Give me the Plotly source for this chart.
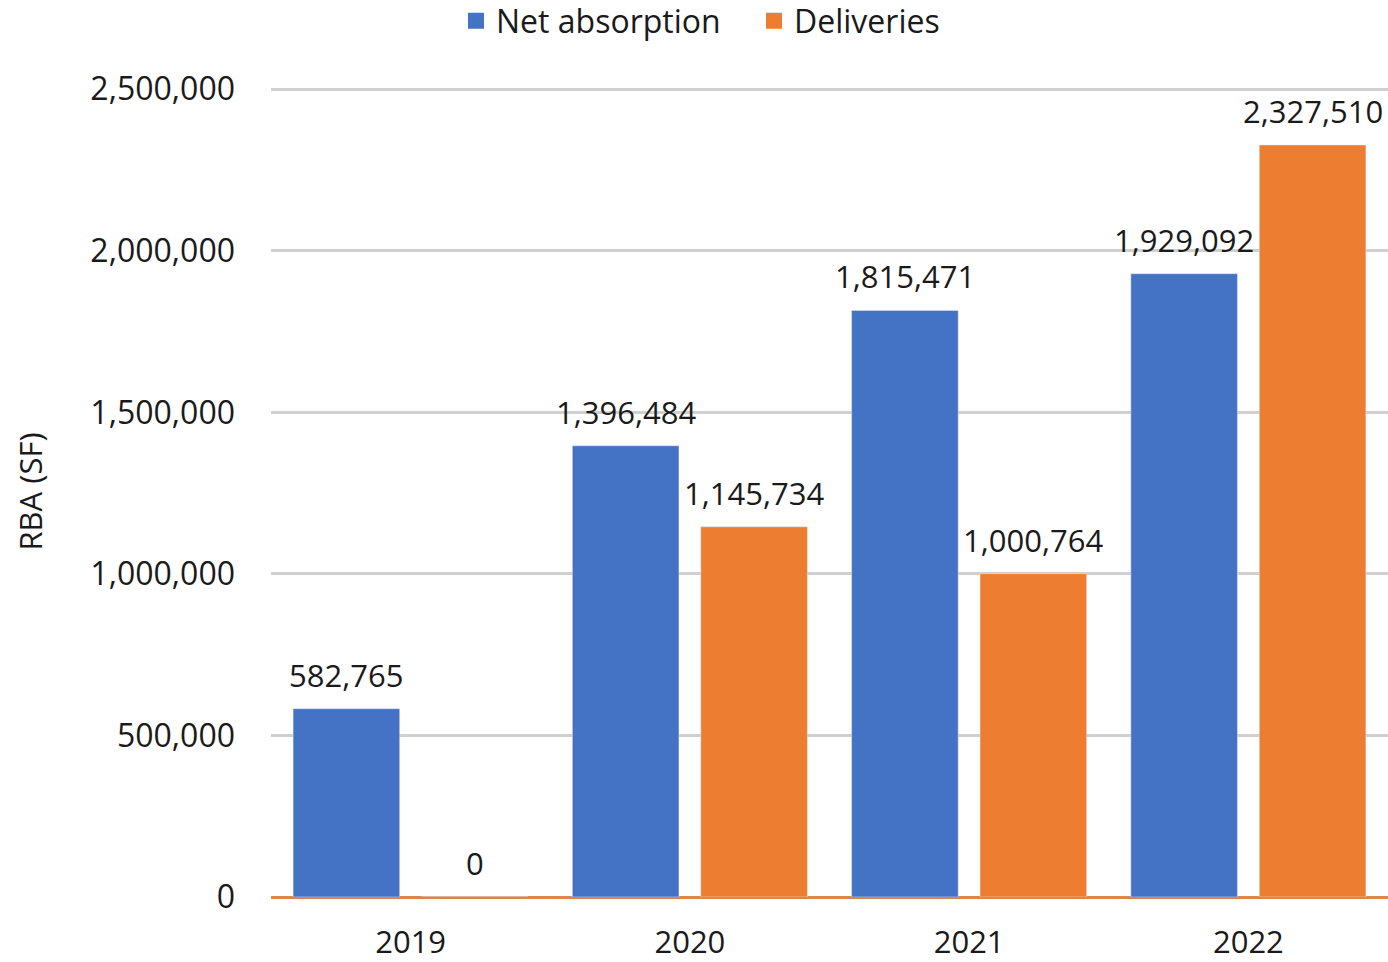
import plotly.graph_objects as go

years = ["2019", "2020", "2021", "2022"]
net_absorption = [582765, 1396484, 1815471, 1929092]
deliveries = [0, 1145734, 1000764, 2327510]
tick_vals = [0, 500000, 1000000, 1500000, 2000000, 2500000]
tick_text = ["0", "500,000", "1,000,000", "1,500,000", "2,000,000", "2,500,000"]
series = [("Net absorption", net_absorption, "#4472C4"), ("Deliveries", deliveries, "#ED7D31")]

FONT = "Open Sans"
TXT = "#1a1a1a"
W, H = 1388, 962
ML, MR, MT, MB = 271, 0, 86, 65
BARGAP, GROUPGAP = 0.08, 0.17

fig = go.Figure()
for i, (name, vals, col) in enumerate(series):
    fig.add_trace(go.Bar(
        x=years, y=vals, name=name, marker=dict(color=col),
        offsetgroup=str(i), showlegend=False,
    ))
# legend entries with larger square swatches
for name, vals, col in series:
    fig.add_trace(go.Scatter(
        x=[None], y=[None], mode="markers", name=name,
        marker=dict(symbol="square", size=21, color=col), showlegend=True,
    ))

# data labels placed over each bar (x given as category index)
cat_px = (W - ML - MR) / len(years)
slot_px = cat_px * (1 - BARGAP) / len(series)
for i, (name, vals, col) in enumerate(series):
    shift = (i - (len(series) - 1) / 2) * slot_px
    for j, v in enumerate(vals):
        fig.add_annotation(x=j, y=v, text=f"{v:,}", showarrow=False,
                           xshift=shift, yshift=11, yanchor="bottom",
                           font=dict(family=FONT, size=31, color=TXT))

fig.update_layout(
    width=W, height=H,
    margin=dict(l=ML, r=MR, t=MT, b=MB, autoexpand=False),
    paper_bgcolor="white", plot_bgcolor="white",
    barmode="group", bargap=BARGAP, bargroupgap=GROUPGAP,
    font=dict(family=FONT, size=32, color=TXT),
    legend=dict(orientation="h", x=0.5 + 60 / W, xanchor="center", y=1 - 21 / H, yanchor="middle",
                xref="container", yref="container",
                font=dict(family=FONT, size=32, color=TXT),
                itemwidth=30, entrywidth=253, traceorder="normal", tracegroupgap=0),
    xaxis=dict(type="category", categoryorder="array", categoryarray=years,
               range=[-0.5, len(years) - 0.5],
               showgrid=False, showline=False, ticks="", tickfont=dict(size=31),
               ticklabelstandoff=24),
    yaxis=dict(range=[0, 2510000], tickvals=tick_vals, ticktext=tick_text,
               showgrid=True, gridcolor="#d0d0d0", gridwidth=3,
               zeroline=True, zerolinecolor="#D9864F", zerolinewidth=3,
               showline=False, ticks="", tickfont=dict(size=32), ticklabelstandoff=35,
               title=dict(text="RBA (SF)", font=dict(size=31), standoff=38)),
)
fig.write_html("out.html")
